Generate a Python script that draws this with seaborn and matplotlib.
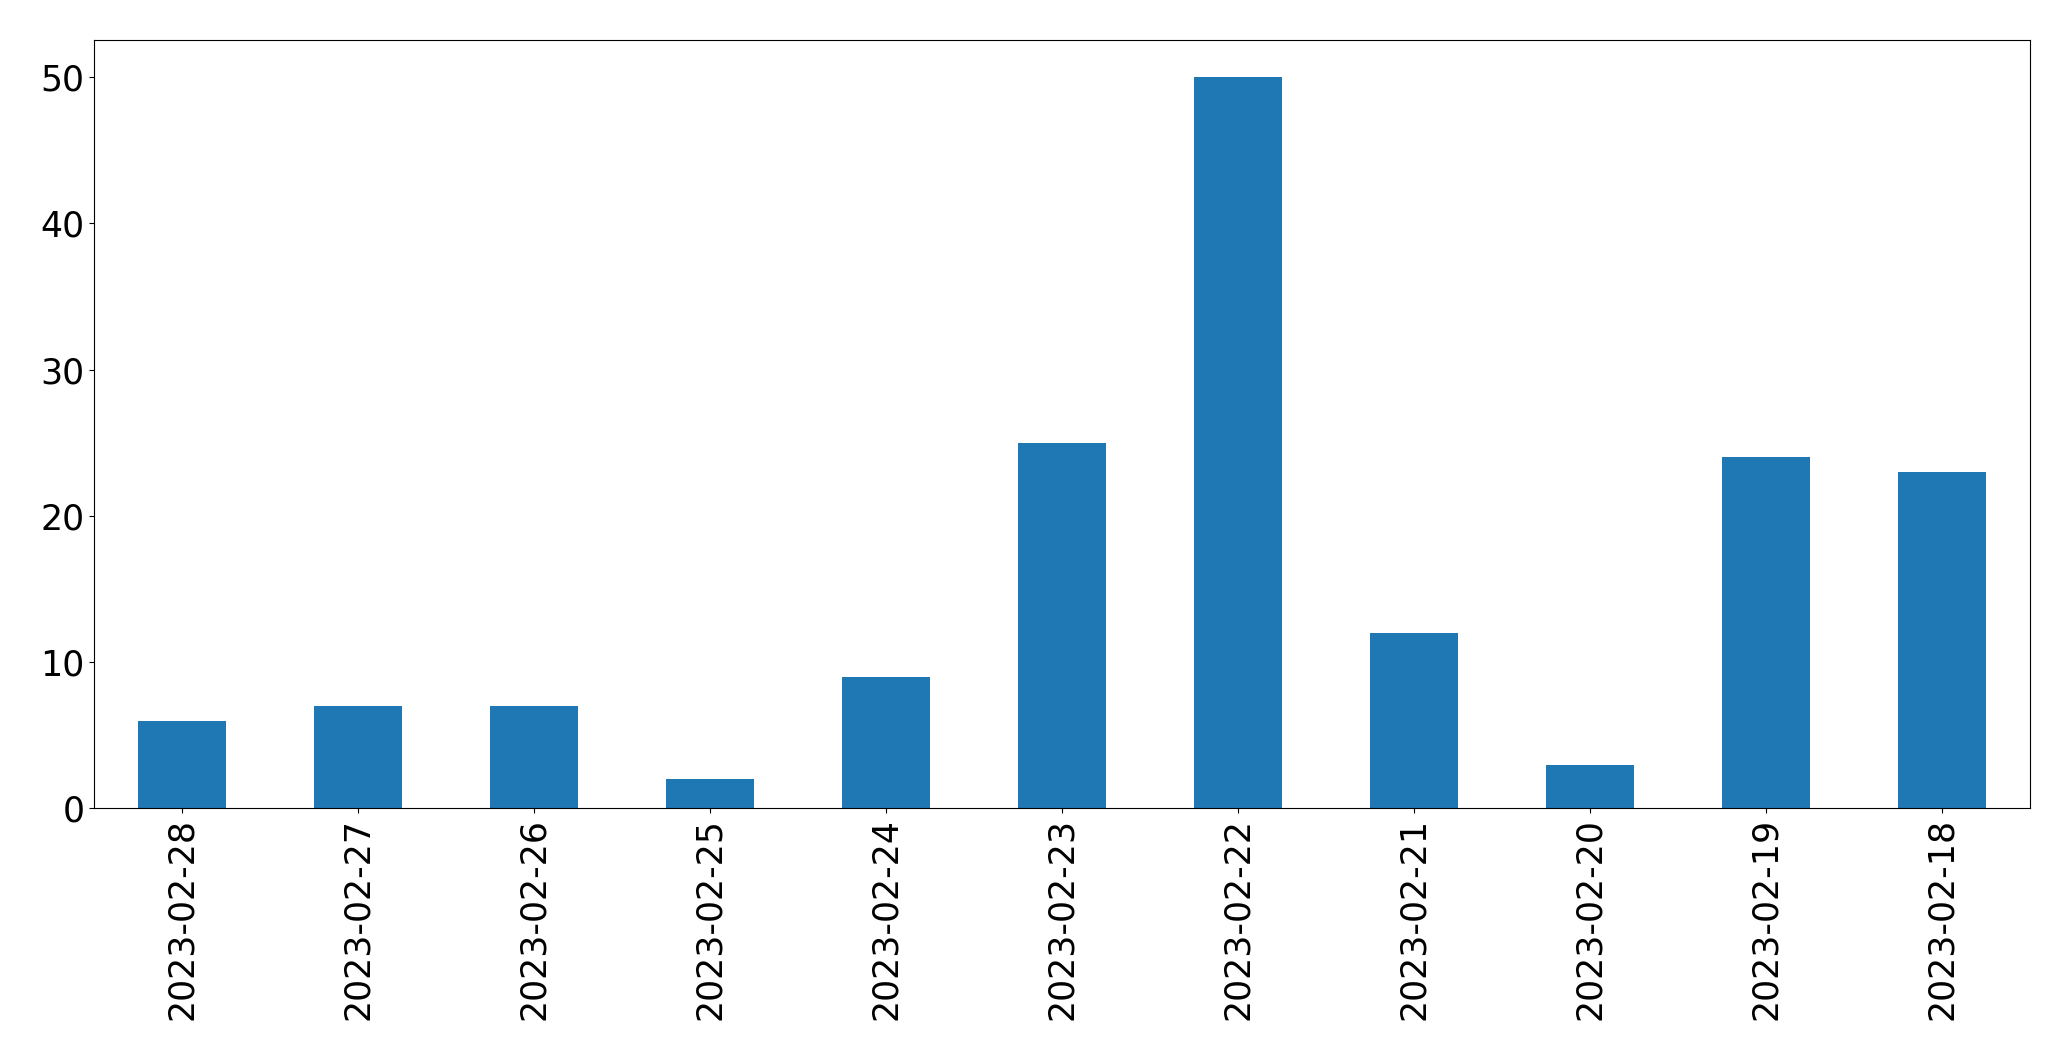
import pandas as pd
import matplotlib
matplotlib.use('Agg')
import matplotlib.pyplot as plt
import seaborn as sns

dates = ['2023-02-28', '2023-02-27', '2023-02-26', '2023-02-25', '2023-02-24',
         '2023-02-23', '2023-02-22', '2023-02-21', '2023-02-20', '2023-02-19',
         '2023-02-18']
counts = [6, 7, 7, 2, 9, 25, 50, 12, 3, 24, 23]

df = pd.DataFrame({'date': dates, 'count': counts})

fig, ax = plt.subplots(figsize=(20.71, 10.61), dpi=100)
sns.barplot(data=df, x='date', y='count', color='#1f77b4', saturation=1,
            width=0.5, ax=ax)

ax.set_xlim(-0.5, len(dates) - 0.5)
ax.set_ylim(0, max(counts) * 1.05)
ax.set_xlabel('')
ax.set_ylabel('')
ax.tick_params(axis='both', labelsize=25)
ax.tick_params(axis='x', rotation=90)

fig.subplots_adjust(left=0.0454, right=0.980, top=0.962, bottom=0.238)
fig.savefig('out.png', dpi=100)
